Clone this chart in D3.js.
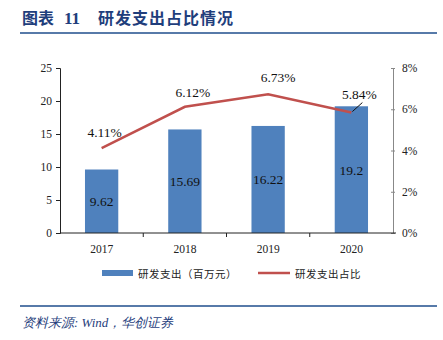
<!DOCTYPE html>
<html><head><meta charset="utf-8">
<script src="https://cdn.jsdelivr.net/npm/d3@7"></script>
<style>body{margin:0;background:#fff}svg{display:block}</style>
</head><body>
<svg id="c" width="443" height="340"></svg>
<script>
const years = ["2017","2018","2019","2020"];
const rdSpend = [9.62, 15.69, 16.22, 19.2];
const rdRatio = [4.11, 6.12, 6.73, 5.84];
const leftTicks = [0,5,10,15,20,25];
const rightTicks = [0,2,4,6,8];

const svg = d3.select("#c");
const serif = "'Liberation Serif','Times New Roman',serif";
const cjk = "'Noto Sans CJK SC',sans-serif";
const L = 60, R = 393, T = 68, B = 233;

// title
svg.append("text").attr("x",22).attr("y",24).attr("fill","#1F3E7C")
  .attr("font-family",cjk).attr("font-weight","bold").attr("font-size",16)
  .text("图表");
svg.append("text").attr("x",64).attr("y",24).attr("fill","#1F3E7C")
  .attr("font-family",serif).attr("font-weight","bold").attr("font-size",17)
  .text("11");
svg.append("text").attr("x",98).attr("y",24).attr("fill","#1F3E7C")
  .attr("font-family",cjk).attr("font-weight","bold").attr("font-size",16)
  .attr("letter-spacing",1).text("研发支出占比情况");
svg.append("line").attr("x1",20).attr("x2",437).attr("y1",33).attr("y2",33)
  .attr("stroke","#1F4E8C").attr("stroke-width",1.5);
svg.append("line").attr("x1",20).attr("x2",437).attr("y1",306).attr("y2",306)
  .attr("stroke","#1F4E8C").attr("stroke-width",1.5);
svg.append("text").attr("x",22).attr("y",327).attr("fill","#1F3E7C")
  .attr("font-family",serif).attr("font-style","italic").attr("font-size",13)
  .text("资料来源: Wind，华创证券");

const x = d3.scaleBand().domain(years).range([L,R]).paddingInner(0.6).paddingOuter(0.3);
const xb = d3.scaleBand().domain(years).range([L,R]);
const y = d3.scaleLinear().domain([0,25]).range([B,T]);
const y2 = d3.scaleLinear().domain([0,8]).range([B,T]);

// bars
svg.selectAll("rect.bar").data(years).enter().append("rect")
  .attr("x",d=>x(d)).attr("width",x.bandwidth())
  .attr("y",(d,i)=>y(rdSpend[i])).attr("height",(d,i)=>B-y(rdSpend[i]))
  .attr("fill","#4F81BD");
svg.selectAll("text.bl").data(years).enter().append("text")
  .attr("x",d=>x(d)+x.bandwidth()/2).attr("y",(d,i)=>(y(rdSpend[i])+B)/2+5)
  .attr("text-anchor","middle").attr("font-family",serif).attr("font-size",13.5)
  .attr("fill","#111").text((d,i)=>rdSpend[i]);

// axes
const gl = svg.append("g").attr("transform",`translate(${L},0)`)
  .call(d3.axisLeft(y).tickValues(leftTicks).tickSize(4).tickPadding(4));
const gr = svg.append("g").attr("transform",`translate(${R},0)`)
  .call(d3.axisRight(y2).tickValues(rightTicks).tickFormat(d=>d+"%").tickSize(0).tickPadding(9));
gr.selectAll(".tick").append("line").attr("x1",-2).attr("x2",2).attr("stroke","#888");
const gb = svg.append("g").attr("transform",`translate(0,${B})`)
  .call(d3.axisBottom(xb).tickSize(0).tickPadding(12));
gb.select(".domain").remove();
svg.append("line").attr("x1",L).attr("x2",R+3).attr("y1",B).attr("y2",B).attr("stroke","#222");
[1,2,3].forEach(i=>svg.append("line").attr("x1",L+xb.step()*i).attr("x2",L+xb.step()*i)
  .attr("y1",B).attr("y2",B+4).attr("stroke","#222"));
[gl,gr,gb].forEach(g=>g.selectAll("text").attr("font-family",serif).attr("font-size",11.5).attr("fill","#222"));
gl.select(".domain").attr("stroke","#222");
gl.selectAll(".tick line").attr("stroke","#222");
gr.select(".domain").attr("stroke","#888");

// line
const cx = d => xb(d)+xb.bandwidth()/2;
const line = d3.line().x((d,i)=>cx(years[i])).y(d=>y2(d));
svg.append("path").datum(rdRatio).attr("d",line).attr("fill","none")
  .attr("stroke","#C0504D").attr("stroke-width",2.5);
const lblDx = [3, 8, 10, 8];
const lblDy = [-11, -10, -12, -14];
svg.selectAll("text.ll").data(years).enter().append("text")
  .attr("x",(d,i)=>cx(d)+lblDx[i]).attr("y",(d,i)=>y2(rdRatio[i])+lblDy[i])
  .attr("text-anchor","middle").attr("font-family",serif).attr("font-size",13.5)
  .attr("fill","#111").text((d,i)=>rdRatio[i].toFixed(2)+"%");
svg.append("line").attr("x1",cx(years[3])+1).attr("y1",y2(rdRatio[3])-1)
  .attr("x2",cx(years[3])+11).attr("y2",y2(rdRatio[3])-10).attr("stroke","#111").attr("stroke-width",1);

// legend
svg.append("rect").attr("x",102).attr("y",270).attr("width",31).attr("height",6).attr("fill","#4F81BD");
svg.append("text").attr("x",138).attr("y",277.5).attr("font-family",cjk).attr("font-size",10.5)
  .attr("letter-spacing",0.5).attr("fill","#222").text("研发支出（百万元）");
svg.append("line").attr("x1",258).attr("x2",290).attr("y1",273).attr("y2",273)
  .attr("stroke","#C0504D").attr("stroke-width",2.5);
svg.append("text").attr("x",295).attr("y",277.5).attr("font-family",cjk).attr("font-size",10.5)
  .attr("letter-spacing",0.5).attr("fill","#222").text("研发支出占比");
</script>
</body></html>
